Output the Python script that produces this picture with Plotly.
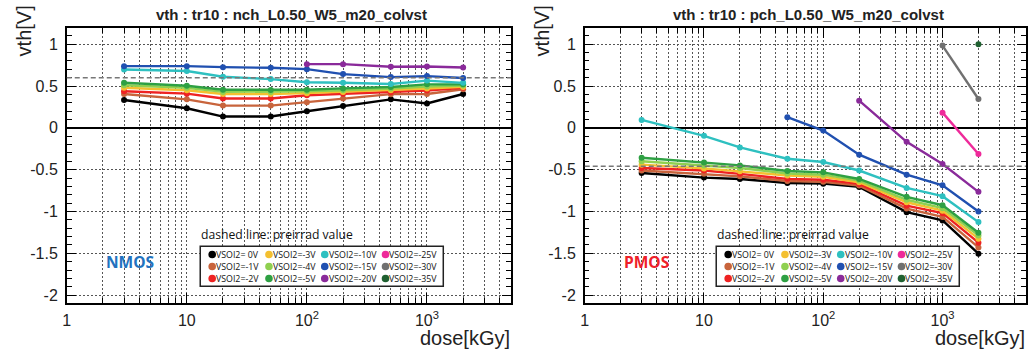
import plotly.graph_objects as go

# ---------------- data ----------------
dose = [3, 10, 20, 50, 100, 200, 500, 1000, 2000]

labels = ["VSOI2= 0V", "VSOI2=-1V", "VSOI2=-2V", "VSOI2=-3V", "VSOI2=-4V", "VSOI2=-5V",
          "VSOI2=-10V", "VSOI2=-15V", "VSOI2=-20V", "VSOI2=-25V", "VSOI2=-30V", "VSOI2=-35V"]
colors = ["#000000", "#c8643c", "#ee2222", "#f4c030", "#8fd050", "#2ea043",
          "#2ec0c0", "#2050b0", "#8a2a9a", "#ee2a9a", "#707070", "#1f6030"]

N = None
nmos_0V   = [0.333, 0.234, 0.135, 0.135, 0.198, 0.262, 0.341, 0.292, 0.405]
nmos_m1V  = [0.405, 0.341, 0.266, 0.266, 0.307, 0.351, 0.403, 0.405, 0.462]
nmos_m2V  = [0.438, 0.409, 0.351, 0.351, 0.390, 0.409, 0.427, 0.446, 0.480]
nmos_m3V  = [0.480, 0.450, 0.405, 0.405, 0.415, 0.430, 0.450, 0.470, 0.490]
nmos_m4V  = [0.510, 0.480, 0.430, 0.430, 0.437, 0.450, 0.470, 0.495, 0.505]
nmos_m5V  = [0.540, 0.504, 0.456, 0.452, 0.456, 0.472, 0.488, 0.520, 0.520]
nmos_m10V = [0.698, 0.679, 0.611, 0.583, 0.545, 0.540, 0.524, 0.565, 0.538]
nmos_m15V = [0.738, 0.738, 0.726, 0.718, 0.702, 0.643, 0.607, 0.619, 0.597]
nmos_m20V = [N, N, N, N, 0.762, 0.762, 0.730, 0.734, 0.722]
nmos_m25V = [N] * 9
nmos_m30V = [N] * 9
nmos_m35V = [N] * 9

pmos_0V   = [-0.539, -0.595, -0.611, -0.659, -0.667, -0.706, -1.008, -1.107, -1.504]
pmos_m1V  = [-0.510, -0.550, -0.580, -0.635, -0.645, -0.690, -0.965, -1.065, -1.430]
pmos_m2V  = [-0.480, -0.510, -0.550, -0.610, -0.620, -0.670, -0.930, -1.020, -1.373]
pmos_m3V  = [-0.440, -0.485, -0.520, -0.570, -0.585, -0.650, -0.890, -0.990, -1.325]
pmos_m4V  = [-0.400, -0.450, -0.480, -0.545, -0.560, -0.630, -0.860, -0.960, -1.286]
pmos_m5V  = [-0.357, -0.413, -0.449, -0.516, -0.532, -0.611, -0.825, -0.925, -1.254]
pmos_m10V = [0.095, -0.095, -0.234, -0.369, -0.409, -0.510, -0.718, -0.817, -1.127]
pmos_m15V = [N, N, N, 0.127, -0.032, -0.321, -0.560, -0.687, -1.000]
pmos_m20V = [N, N, N, N, N, 0.325, -0.167, -0.433, -0.765]
pmos_m25V = [N, N, N, N, N, N, N, 0.182, -0.313]
pmos_m30V = [N, N, N, N, N, N, N, 0.984, 0.345]
pmos_m35V = [N, N, N, N, N, N, N, N, 1.000]

nmos_series = [nmos_0V, nmos_m1V, nmos_m2V, nmos_m3V, nmos_m4V, nmos_m5V,
               nmos_m10V, nmos_m15V, nmos_m20V, nmos_m25V, nmos_m30V, nmos_m35V]
pmos_series = [pmos_0V, pmos_m1V, pmos_m2V, pmos_m3V, pmos_m4V, pmos_m5V,
               pmos_m10V, pmos_m15V, pmos_m20V, pmos_m25V, pmos_m30V, pmos_m35V]

nmos_preirrad = 0.60
pmos_preirrad = -0.46

titles = ["vth : tr10 : nch_L0.50_W5_m20_colvst", "vth : tr10 : pch_L0.50_W5_m20_colvst"]
panel_tags = ["NMOS", "PMOS"]
x_tickvals = [1, 10, 100, 1000]
x_ticktext = ["1", "10", "10<sup>2</sup>", "10<sup>3</sup>"]
y_tickvals = [-2, -1.5, -1, -0.5, 0, 0.5, 1]
y_ticktext = ["-2", "-1.5", "-1", "-0.5", "0", "0.5", "1"]

# ---------------- layout helpers ----------------
W, H = 1030, 351
def fx(px):
    return px / W
def fy(py):
    return 1 - py / H

panels = [
    dict(x0=63, x1=509, tagcolor="#2272be", pre=nmos_preirrad, series=nmos_series,
         leg_x=197, ytitle_x=21),
    dict(x0=583, x1=1026, tagcolor="#ee2028", pre=pmos_preirrad, series=pmos_series,
         leg_x=715, ytitle_x=541),
]
plot_top, plot_bot = 28, 303.5

fig = go.Figure()
shapes = []
annotations = []
minor_x = [m * 10 ** e for e in range(4) for m in range(2, 10) if m * 10 ** e < 5200]

for i, p in enumerate(panels):
    xa = "x" if i == 0 else "x2"
    ya = "y" if i == 0 else "y2"
    for lab, col, vals in zip(labels, colors, p["series"]):
        fig.add_trace(go.Scatter(
            x=dose, y=vals, mode="lines+markers", name=lab,
            line=dict(color=col, width=2.4), marker=dict(color=col, size=6),
            connectgaps=False, showlegend=False, xaxis=xa, yaxis=ya))

    axis_common = dict(showline=True, linecolor="black", linewidth=1.5, mirror="ticks",
                       ticks="inside", tickcolor="black",
                       tickfont=dict(family="Liberation Sans", size=16, color="#222"),
                       showgrid=True, gridcolor="#555", griddash="2px,2px", gridwidth=1)
    xkey = "xaxis" if i == 0 else "xaxis2"
    ykey = "yaxis" if i == 0 else "yaxis2"
    fig.update_layout(**{
        xkey: dict(axis_common, type="log", range=[0, 3.7],
                   domain=[fx(p["x0"]), fx(p["x1"])], anchor=ya,
                   tickmode="array", tickvals=x_tickvals, ticktext=x_ticktext,
                   ticklen=10, ticklabelstandoff=2, zeroline=False,
                   minor=dict(tickmode="array", tickvals=minor_x, ticks="inside", ticklen=5,
                              tickcolor="black", showgrid=True, gridcolor="#555",
                              griddash="2px,2px", gridwidth=1)),
        ykey: dict(axis_common, range=[-2.09, 1.195],
                   domain=[fy(plot_bot), fy(plot_top)], anchor=xa,
                   tickmode="array", tickvals=y_tickvals, ticktext=y_ticktext,
                   ticklen=9, ticklabelstandoff=4,
                   zeroline=True, zerolinecolor="black", zerolinewidth=1.5,
                   minor=dict(dtick=0.1, ticks="inside", ticklen=5, tickcolor="black",
                              showgrid=False)),
    })

    # preirrad dashed line
    shapes.append(dict(type="line", xref=f"{xa} domain", yref=ya, x0=0, x1=1,
                       y0=p["pre"], y1=p["pre"], layer="above",
                       line=dict(color="#777", width=1.5, dash="5px,3px")))

    # title
    annotations.append(dict(text=f"<b>{titles[i]}</b>", xref="paper", yref="paper",
                            x=fx((p["x0"] + p["x1"]) / 2 + 3), y=fy(15), xanchor="center",
                            yanchor="middle", showarrow=False,
                            font=dict(family="Liberation Sans", size=15, color="#222")))
    # y title
    annotations.append(dict(text="vth[V]", xref="paper", yref="paper", textangle=-90,
                            x=fx(p["ytitle_x"]), y=fy(4), xanchor="center", yanchor="top",
                            showarrow=False, borderpad=0,
                            font=dict(family="Liberation Sans", size=20, color="#222")))
    # x title
    annotations.append(dict(text="dose[kGy]", xref="paper", yref="paper",
                            x=fx(p["x1"]), y=fy(338.5), xanchor="right", yanchor="middle",
                            showarrow=False, borderpad=0,
                            font=dict(family="Liberation Sans", size=20, color="#222")))
    # panel tag
    annotations.append(dict(text=f"<b>{panel_tags[i]}</b>", xref="paper", yref="paper",
                            x=fx(p["x0"] + 38), y=fy(263), xanchor="left", yanchor="middle",
                            showarrow=False, borderpad=0,
                            font=dict(family="Open Sans", size=15.5, color=p["tagcolor"])))
    # legend note
    lx = p["leg_x"]
    annotations.append(dict(text="dashed line: preirrad value", xref="paper", yref="paper",
                            x=fx(lx), y=fy(235), xanchor="left", yanchor="middle",
                            showarrow=False, borderpad=0,
                            font=dict(family="Open Sans", size=12.2, color="#111")))
    # legend box
    shapes.append(dict(type="rect", xref="paper", yref="paper",
                       x0=fx(lx), x1=fx(lx + 244), y0=fy(287), y1=fy(247),
                       fillcolor="white", line=dict(color="#222", width=1.5), layer="above"))
    col_off = [12, 69, 125, 186]
    row_y = [255.3, 267.3, 279.3]
    for k, (lab, col) in enumerate(zip(labels, colors)):
        c, r = divmod(k, 3)
        cx = lx + col_off[c]
        cy = row_y[r]
        shapes.append(dict(type="circle", xref="paper", yref="paper",
                           xsizemode="pixel", ysizemode="pixel",
                           xanchor=fx(cx), yanchor=fy(cy), x0=-3.8, x1=3.8, y0=-3.8, y1=3.8,
                           fillcolor=col, line=dict(color=col, width=0), layer="above"))
        annotations.append(dict(text=lab, xref="paper", yref="paper",
                                x=fx(cx + 3.8), y=fy(cy), xanchor="left", yanchor="middle",
                                showarrow=False, borderpad=0, borderwidth=0,
                                font=dict(family="Open Sans", size=8.8, color="#111")))

fig.update_layout(width=W, height=H, margin=dict(l=0, r=0, t=0, b=0),
                  paper_bgcolor="white", plot_bgcolor="white", showlegend=False,
                  shapes=shapes, annotations=annotations)

fig.write_html("out.html")
